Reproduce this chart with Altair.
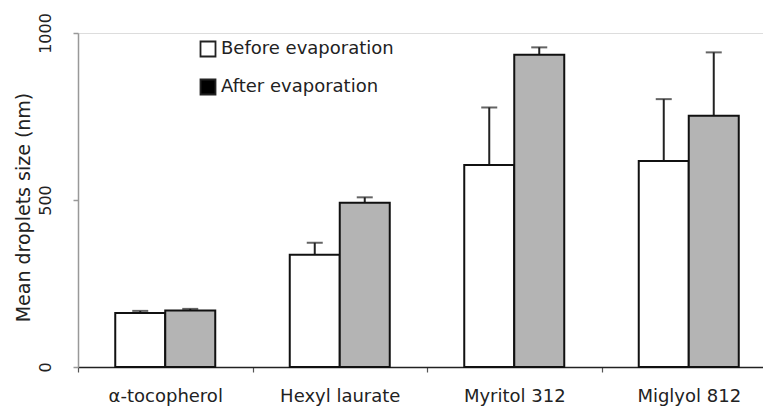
import altair as alt
import pandas as pd

categories = ["α-tocopherol", "Hexyl laurate", "Myritol 312", "Miglyol 812"]
series = ["Before evaporation", "After evaporation"]
before_mean = [162, 336, 605, 617]
before_upper = [168, 372, 777, 802]
after_mean = [169, 492, 935, 752]
after_upper = [174, 508, 957, 942]
y_ticks = [0, 500, 1000]

rows = []
for i, c in enumerate(categories):
    rows.append({"category": c, "series": series[0], "mean": before_mean[i], "upper": before_upper[i]})
    rows.append({"category": c, "series": series[1], "mean": after_mean[i], "upper": after_upper[i]})
df = pd.DataFrame(rows)

FONT = "DejaVu Sans"

x_enc = alt.X(
    "category:N",
    sort=categories,
    scale=alt.Scale(range=[0, 698], paddingInner=0, paddingOuter=0),
    axis=alt.Axis(
        title=None, labelAngle=0, tickBand="extent", tickSize=5,
        domainColor="#222", domainWidth=1.5, tickColor="#555", tickWidth=1.2,
        labelPadding=15, labelFontSize=18, labelFont=FONT, labelColor="#222",
    ),
)
xo_enc = alt.XOffset("series:N", sort=series,
                     scale=alt.Scale(paddingInner=0, paddingOuter=0.745))
y_scale = alt.Scale(domain=[0, 1000], nice=False)
y_axis = alt.Axis(
    values=y_ticks, format="d", grid=False, title="Mean droplets size (nm)",
    domainColor="#999", domainWidth=1.5, tickColor="#999", tickWidth=1.5, tickSize=5,
    labelAngle=270, labelAlign="center", labelBaseline="bottom", labelPadding=20,
    labelFontSize=16, labelFont=FONT, labelColor="#222",
    titleFont=FONT, titleFontSize=19, titleFontWeight="normal", titleColor="#222",
    titleAngle=270, titleAlign="center", titleBaseline="middle", titleX=-55, titleY=174,
)

base = alt.Chart(df)

legend_layer = base.mark_bar(strokeWidth=0).encode(
    x=x_enc,
    xOffset=xo_enc,
    y=alt.Y("zero:Q", scale=y_scale, axis=y_axis),
    color=alt.Color(
        "series:N",
        sort=series,
        scale=alt.Scale(domain=series, range=["white", "black"]),
        legend=alt.Legend(
            title=None, orient="none", legendX=121, legendY=7, padding=0,
            symbolType="square", symbolSize=225, symbolStrokeColor="#222",
            symbolStrokeWidth=1.8, symbolOpacity=1, labelFont=FONT, labelFontSize=18,
            labelColor="#222", labelOffset=4, rowPadding=14, labelLimit=400,
        ),
    ),
).transform_calculate(zero="0")

bars = base.mark_bar(stroke="#111", strokeWidth=2).encode(
    x=x_enc,
    xOffset=xo_enc,
    y=alt.Y("mean:Q", scale=y_scale, axis=y_axis),
    fill=alt.Fill("series:N", sort=series,
                  scale=alt.Scale(domain=series, range=["white", "#b4b4b4"]),
                  legend=None),
)

err = base.mark_rule(color="#222", strokeWidth=2).encode(
    x=x_enc, xOffset=xo_enc,
    y=alt.Y("mean:Q", scale=y_scale, axis=y_axis),
    y2="upper:Q",
)

caps = base.mark_tick(color="#222", thickness=2, size=16).encode(
    x=x_enc, xOffset=xo_enc,
    y=alt.Y("upper:Q", scale=y_scale, axis=y_axis),
)

chart = alt.layer(legend_layer, err, caps, bars).properties(
    width=685, height=334,
    autosize=alt.AutoSizeParams(type="none"),
    padding={"left": 70, "top": 25, "right": 0, "bottom": 40},
).configure_view(stroke=None).configure(font=FONT)

chart.save("out.html", embed_options={"renderer": "svg", "actions": False})
